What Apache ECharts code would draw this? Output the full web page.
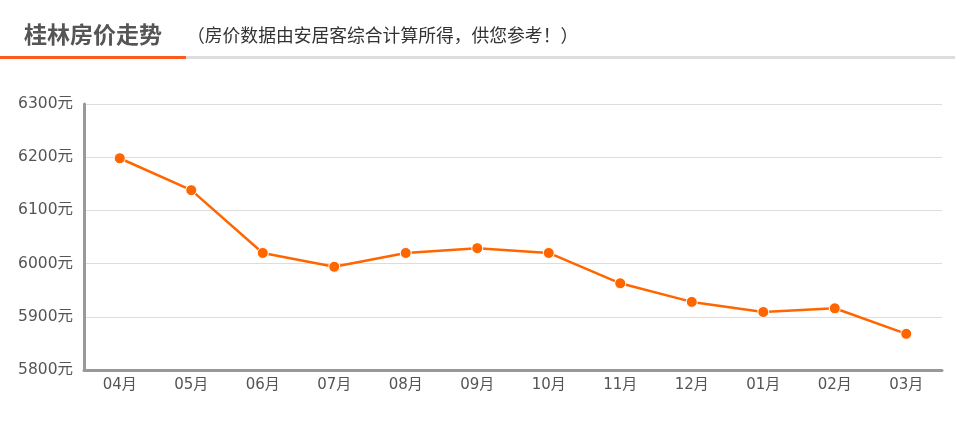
<!DOCTYPE html>
<html><head><meta charset="utf-8">
<script src="https://cdn.jsdelivr.net/npm/echarts@6/dist/echarts.min.js"></script>
<style>html,body{margin:0;padding:0;background:#fff}#c{width:955px;height:423px}</style>
</head><body><div id="c"></div>
<script>
const titleText = '桂林房价走势';
const subtitleText = '（房价数据由安居客综合计算所得，供您参考！）';
const months = ['04月','05月','06月','07月','08月','09月','10月','11月','12月','01月','02月','03月'];
const prices = [6198, 6138, 6020, 5994, 6020, 6029, 6020, 5963, 5928, 5909, 5916, 5868];
const yTicks = [5800, 5900, 6000, 6100, 6200, 6300];
const yUnit = '元';

const labelFont = "'DejaVu Sans', 'Noto Sans CJK SC', sans-serif";
const chart = echarts.init(document.getElementById('c'), null, {renderer: 'canvas'});
chart.setOption({
  animation: false,
  title: [{
    text: titleText, left: 19, top: 18,
    textStyle: {fontFamily: 'Noto Sans CJK SC', fontSize: 23, fontWeight: 'bold', color: '#555'}
  }, {
    text: subtitleText, left: 182, top: 21,
    textStyle: {fontFamily: 'Noto Sans CJK SC', fontSize: 17.8, fontWeight: 'normal', color: '#333'}
  }],
  graphic: [
    {type: 'rect', shape: {x: 186, y: 56, width: 769, height: 3}, style: {fill: '#dddddd'}},
    {type: 'rect', shape: {x: 0, y: 56, width: 186, height: 3}, style: {fill: '#ff5a1e'}}
  ],
  grid: {left: 84, right: 13, top: 104, bottom: 53, containLabel: false},
  xAxis: {
    type: 'category', data: months, boundaryGap: true,
    axisLine: {lineStyle: {color: '#999', width: 3}},
    axisTick: {alignWithLabel: true, length: 5, lineStyle: {color: '#b8cbe0'}},
    axisLabel: {color: '#555', fontSize: 15, fontFamily: labelFont, margin: 8}
  },
  yAxis: {
    type: 'value', min: yTicks[0], max: yTicks[yTicks.length - 1], interval: 100,
    axisLine: {show: true, lineStyle: {color: '#999', width: 3}},
    axisTick: {show: false},
    axisLabel: {color: '#555', fontSize: 15.5, fontFamily: labelFont, margin: 11,
      formatter: v => v + yUnit},
    splitLine: {lineStyle: {color: '#ddd', width: 1}}
  },
  series: [{
    type: 'line', data: prices,
    lineStyle: {color: '#ff6600', width: 2.5},
    itemStyle: {color: '#ff6600', borderColor: '#fff', borderWidth: 1},
    symbol: 'circle', symbolSize: 11
  }]
});
</script></body></html>
